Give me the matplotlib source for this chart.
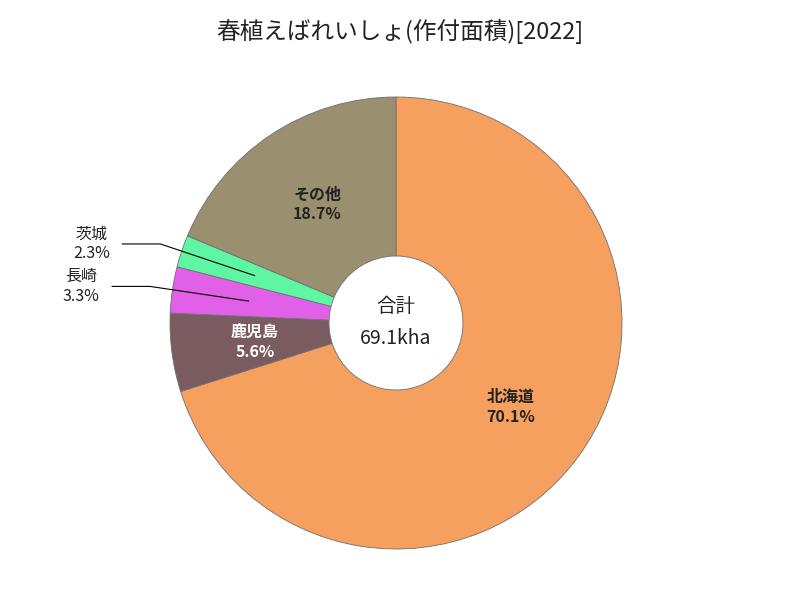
import numpy as np
import matplotlib
matplotlib.use('Agg')
import matplotlib.pyplot as plt

plt.rcParams['font.family'] = ['Noto Sans CJK JP', 'DejaVu Sans']

labels = ['北海道', '鹿児島', '長崎', '茨城', 'その他']
shares = [70.1, 5.6, 3.3, 2.3, 18.7]
colors = ['#F5A05F', '#7A5C60', '#E060E8', '#5EF5A3', '#9A8F6E']
outside = [False, False, True, True, False]
total_text = '69.1kha'
title = '春植えばれいしょ(作付面積)[2022]'

fig = plt.figure(figsize=(8, 6), dpi=100)
ax = fig.add_axes([0, 0, 1, 1])

cx, cy, R = 396, 277, 226
wedges, _ = ax.pie(shares, colors=colors, startangle=90, counterclock=False,
                   center=(cx, cy), radius=R,
                   wedgeprops=dict(width=R - 67, edgecolor='#707070', linewidth=0.6))
ax.set_xlim(0, 800)
ax.set_ylim(0, 600)
ax.set_aspect('equal')
ax.axis('off')

for w, lab, s, out in zip(wedges, labels, shares, outside):
    mid = np.deg2rad((w.theta1 + w.theta2) / 2)
    if not out:
        r = 0.63 * R
        ax.text(cx + r * np.cos(mid), cy + r * np.sin(mid), f'{lab}\n{s:.1f}%',
                ha='center', va='center', fontsize=11.5, fontweight='bold',
                color='white' if lab == '鹿児島' else '#222222', linespacing=1.3)
    else:
        # leader line: point in slice -> elbow -> short horizontal run
        px, py = cx + 0.66 * R * np.cos(mid), cy + 0.66 * R * np.sin(mid)
        ex, ey = cx + 1.1 * R * np.cos(mid), cy + 1.1 * R * np.sin(mid)
        ax.plot([ex - 38, ex, px], [ey, ey, py], color='black', lw=0.8)
        ax.text(ex - 38 - 31, ey, f'{lab}\n{s:.1f}%', ha='center', va='center',
                fontsize=11.5, color='#222222', linespacing=1.2)

ax.text(cx, cy + 17, '合計', ha='center', va='center', fontsize=14, color='#222222')
ax.text(cx, cy - 15, total_text, ha='center', va='center', fontsize=14, color='#222222')

fig.suptitle(title, y=0.968, fontsize=17, color='#222222')
fig.savefig('out.png', dpi=100)
